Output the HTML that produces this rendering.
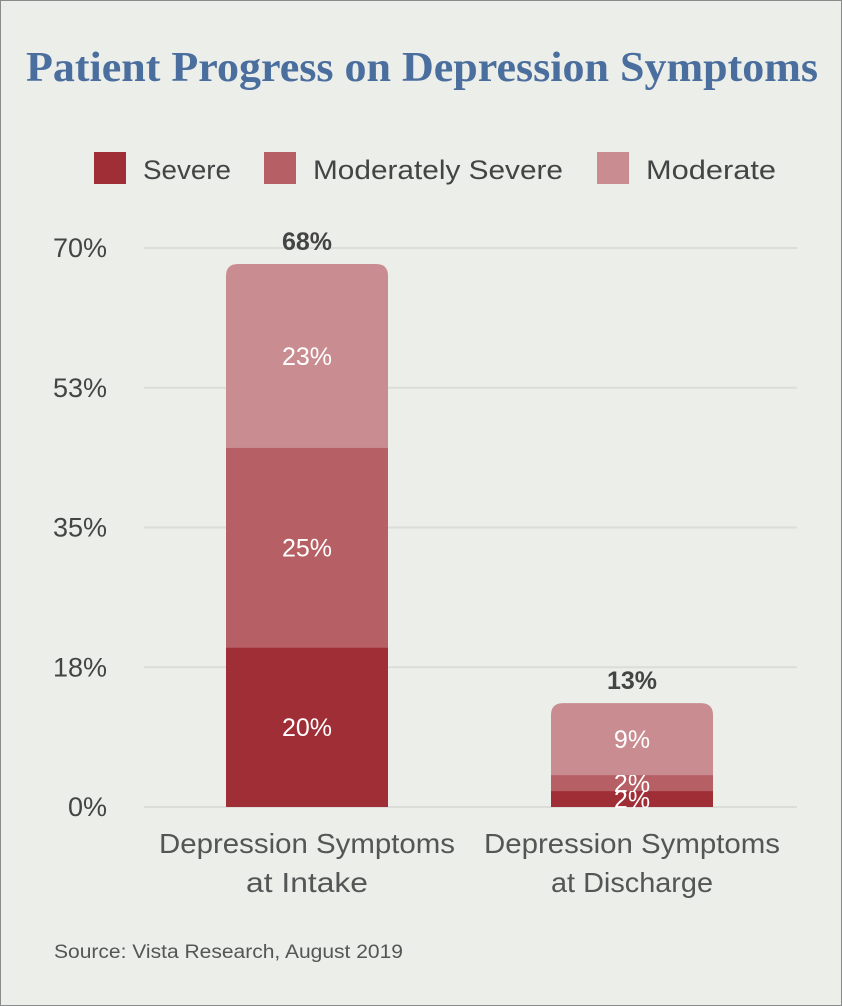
<!DOCTYPE html>
<html><head><meta charset="utf-8"><style>
html,body{margin:0;padding:0;background:#fff}
#wrap{position:relative;width:840px;height:1004px;border:1px solid #8a8a8a;background:#eceee9;overflow:hidden;font-family:"Liberation Sans",sans-serif}
svg{position:absolute;left:0;top:0}
</style></head><body>
<div id="wrap">
<svg id="chart" width="842" height="1006">
<text x="421" y="80" text-anchor="middle" font-family="Liberation Serif, serif" font-weight="bold" font-size="42" fill="#4a6e9e" textLength="792" lengthAdjust="spacingAndGlyphs">Patient Progress on Depression Symptoms</text>
</svg>
</div>
<script>
const categories=[["Depression Symptoms","at Intake"],["Depression Symptoms","at Discharge"]];
const seriesNames=["Severe","Moderately Severe","Moderate"];
const severe=[20,2];
const modSevere=[25,2];
const moderate=[23,9];
const totals=[68,13];
const yTicks=[0,17.5,35,52.5,70];
const yTickLabels=["0%","18%","35%","53%","70%"];
const colors=["#a02e36","#b65f64","#c98d91"];
const NS="http://www.w3.org/2000/svg";
const svg=document.getElementById('chart');
function y(v){return 806-v*(806-247)/70;}
function xc(i){return 306+i*325;}
const bw=162;
function mk(t,a){const e=document.createElementNS(NS,t);for(const k in a)e.setAttribute(k,a[k]);svg.appendChild(e);return e;}
function txt(x,yy,s,size,fill,anchor,weight,len){const e=mk('text',{x:x,y:yy,'font-size':size,fill:fill,'text-anchor':anchor||'middle','font-family':'Liberation Sans, sans-serif'});if(weight)e.setAttribute('font-weight',weight);if(len){e.setAttribute('textLength',len);e.setAttribute('lengthAdjust','spacingAndGlyphs');}e.textContent=s;return e;}
yTicks.forEach((t,i)=>{
 const g=mk('line',{x1:143,x2:796,y1:y(t),y2:y(t),stroke:'#dcdcd8','stroke-width':2});
 
 const l=txt(106,y(t)+9,yTickLabels[i],27,'#444','end');
 
});
const legX=[93,263,596];
const legLen=[88,250,130];
seriesNames.forEach((n,i)=>{
 const r=mk('rect',{x:legX[i],y:151,width:32,height:32,fill:colors[i]});
 
 const t=txt(legX[i]+49,178,n,27,'#444','start',null,legLen[i]);
 
});
const data=[severe,modSevere,moderate];
categories.forEach((c,i)=>{
 let base=0;const x0=xc(i)-bw/2;
 data.forEach((s,k)=>{
  const v=s[i];const top=y(base+v),bot=y(base);
  let el;
  if(k===data.length-1){
   const r=12;
   el=mk('path',{d:`M${x0},${bot}V${top+r}Q${x0},${top} ${x0+r},${top}H${x0+bw-r}Q${x0+bw},${top} ${x0+bw},${top+r}V${bot}Z`,fill:colors[k]});
  } else el=mk('rect',{x:x0,y:top,width:bw,height:bot-top,fill:colors[k]});
  
  const lt=txt(xc(i),(top+bot)/2+9,v+'%',25,'#fff');
  
  base+=v;
 });
 const tt=txt(xc(i),y(totals[i])-14,totals[i]+'%',25,'#444','middle','bold');
 
 c.forEach((line,j)=>{
  const cl=txt(xc(i),852+j*39,line,28,'#555','middle',null,j===0?296:(i===0?122:162));
  
 });
});
const src=txt(53,957,'Source: Vista Research, August 2019',19,'#555','start',null,349);

</script>
</body></html>
